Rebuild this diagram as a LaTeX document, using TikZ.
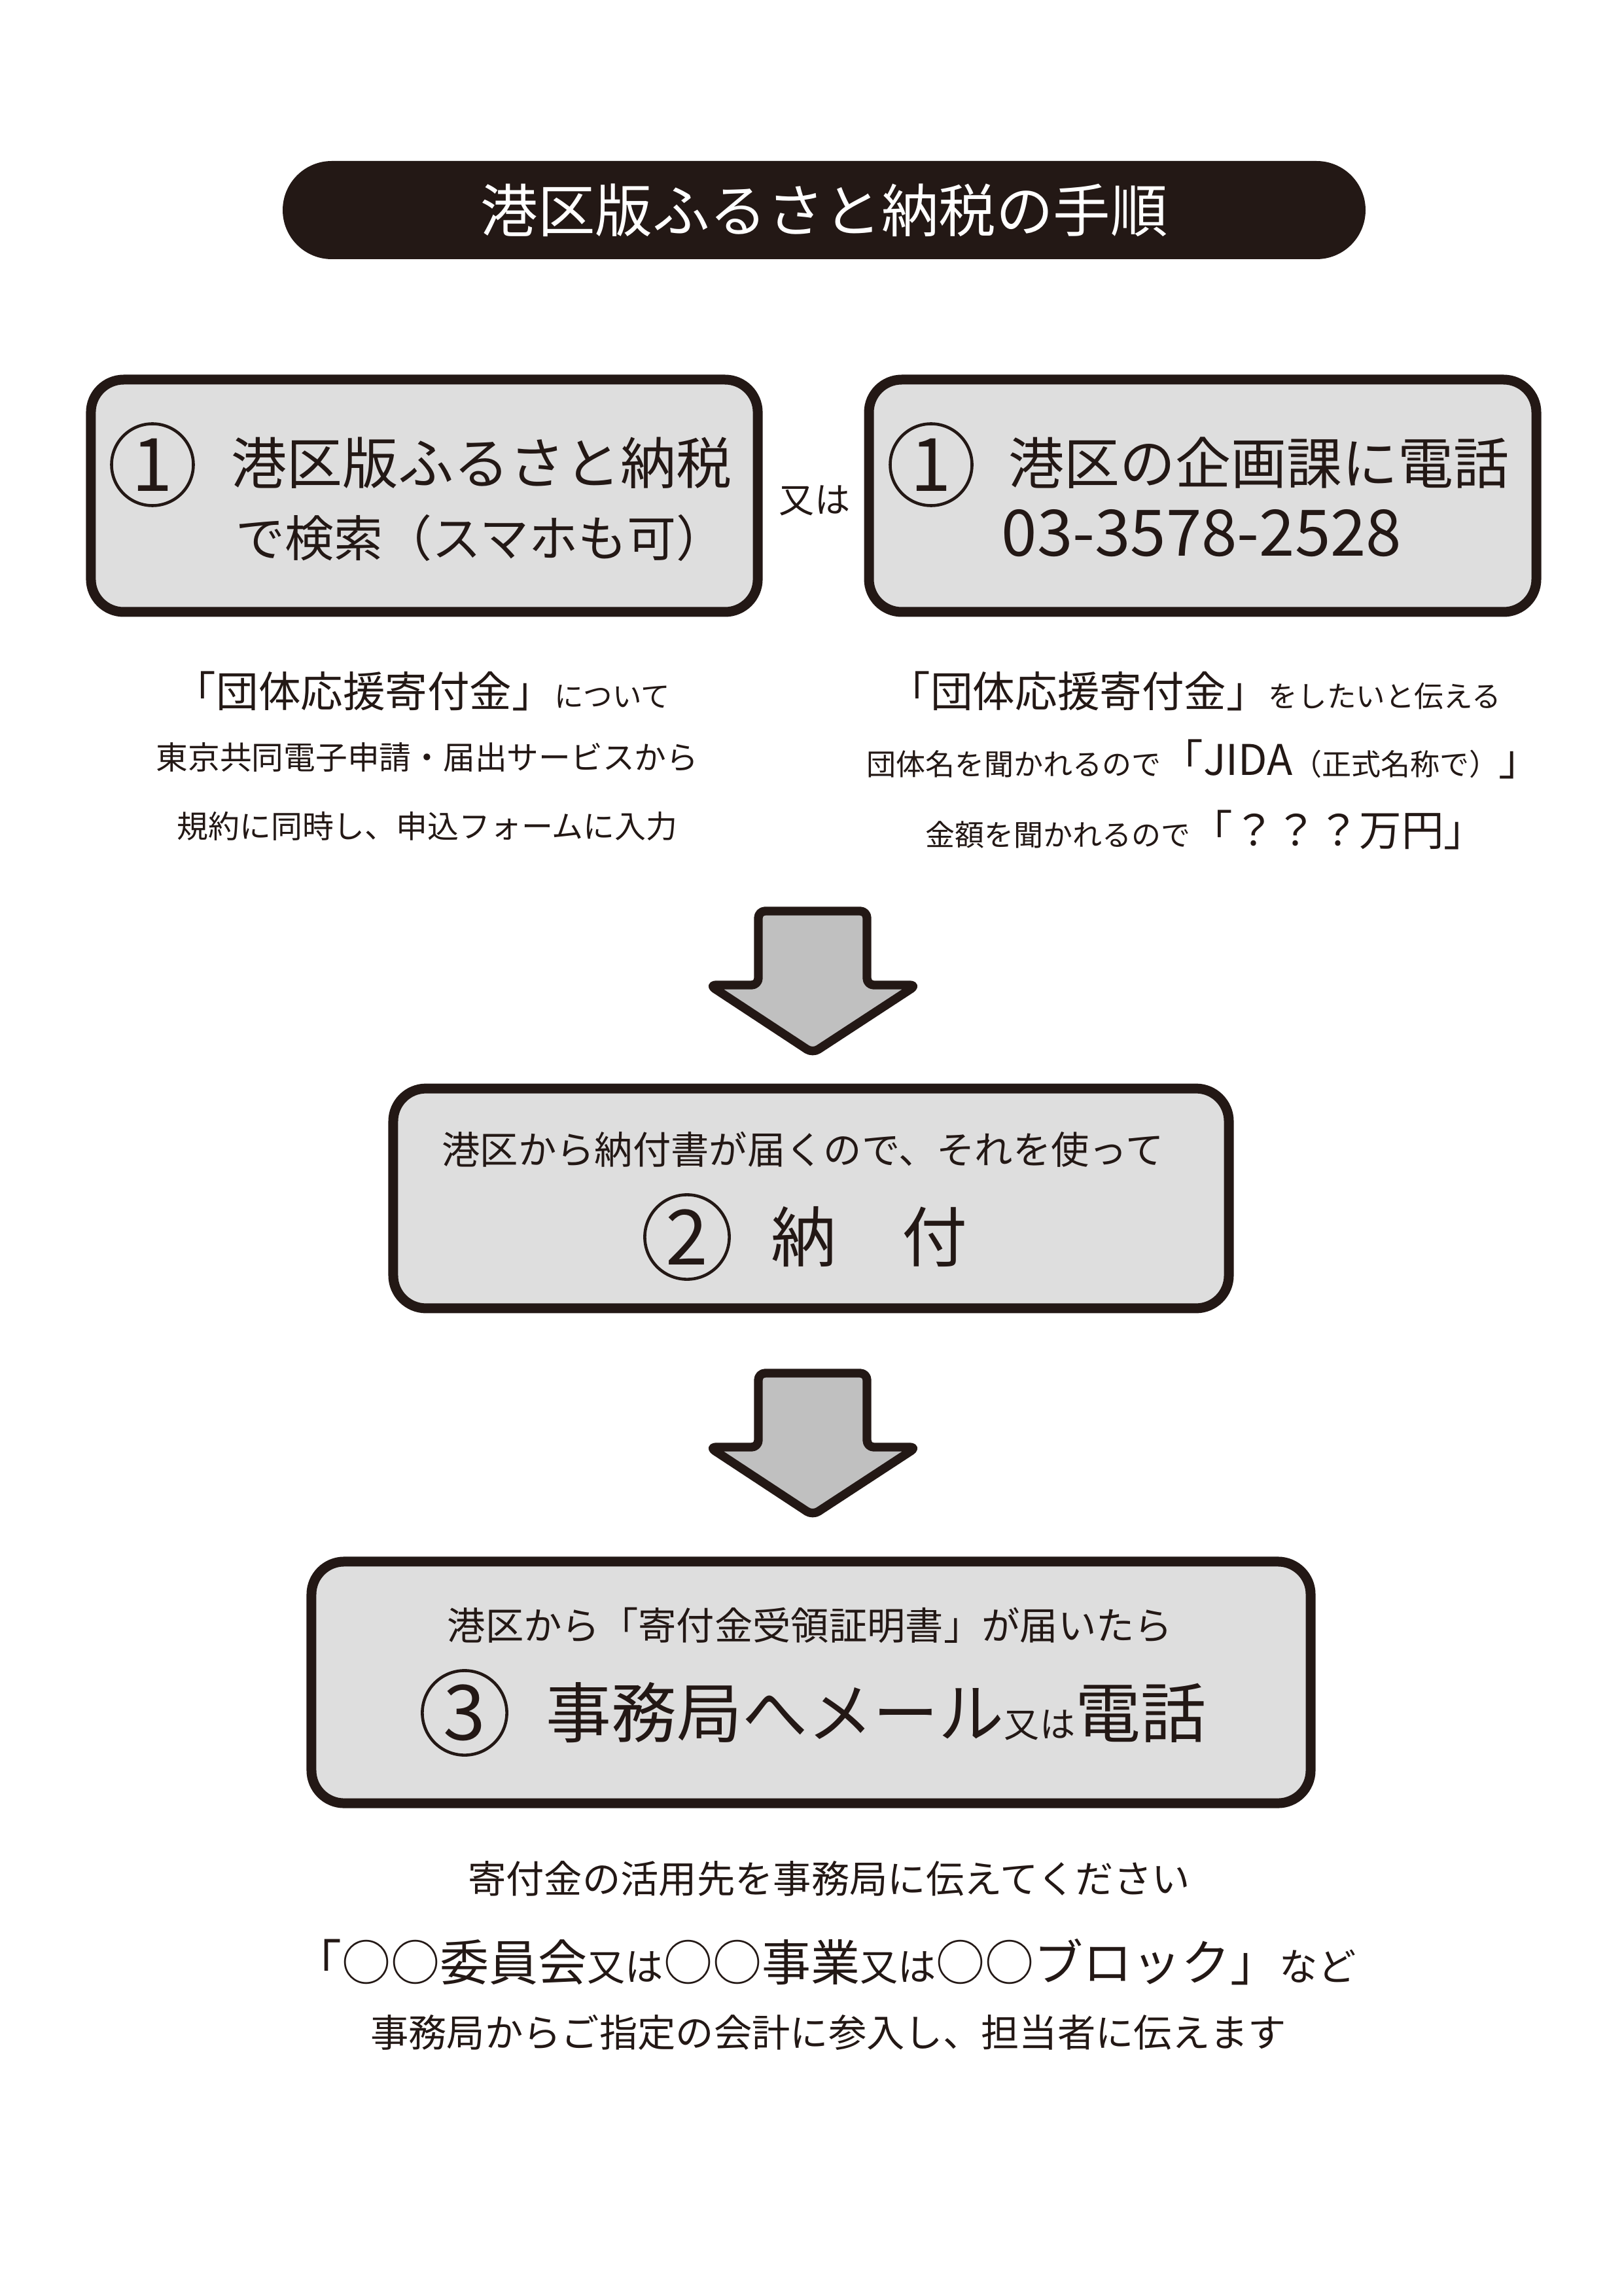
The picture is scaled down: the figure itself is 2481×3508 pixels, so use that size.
\documentclass[tikz,border=0pt]{standalone}
\usepackage{fontspec}
\setmainfont{Noto Sans CJK JP}
\newcommand\fsz[1]{\fontsize{#1pt}{#1pt}\selectfont}
\definecolor{ink}{RGB}{35,24,21}
\definecolor{boxgray}{RGB}{222,222,222}
\definecolor{arrowgray}{RGB}{192,192,192}
\begin{document}
\begin{tikzpicture}[x=0.24pt,y=-0.24pt,
  stepbox/.style={draw=ink, line width=3.6pt, fill=boxgray, rounded corners=12pt, inner sep=0pt},
  titlebox/.style={fill=ink, rounded corners=18pt, inner sep=0pt, minimum width=397.2pt, minimum height=36pt, text=white, font=\fsz{21}},
  numcirc/.style={circle, draw=ink, line width=1.1pt, minimum size=30pt, inner sep=0pt, text=ink, font=\fsz{27}},
  txt/.style={inner sep=0pt, text=ink},
  blockarrow/.style={draw=ink, line width=3.2pt, fill=arrowgray, line join=round, rounded corners=2.5pt}]
\useasboundingbox (0,0) rectangle (2481,3508);

% title
\node[titlebox] (title) at (1259.5,321) {港区版ふるさと納税の手順};

% step 1 boxes
\node[stepbox, minimum width=244.6pt, minimum height=85.2pt] (b1) at (648.5,757.5) {};
\node[stepbox, minimum width=244.8pt, minimum height=85.2pt] (b2) at (1838,757.5) {};

\node[numcirc] (c1a) at (233,710) {1};
\node[txt, anchor=west, font=\fsz{20.4}] (b1l1) at (353,707) {港区版ふるさと納税};
\node[txt, anchor=west, font=\fsz{18}] (b1l2) at (360,822) {で検索（スマホも可）};

\node[numcirc] (c1b) at (1423,710) {1};
\node[txt, anchor=west, font=\fsz{20.4}] (b2l1) at (1541,707) {港区の企画課に電話};
\node[txt, anchor=west, font=\fsz{23.5}] (b2l2) at (1530,815) {03-3578-2528};

\node[txt, font=\fsz{13}] (or1) at (1245,765) {又は};

% notes under step 1
\node[txt] (n1) at (645,1056) {{\fsz{15.5}「団体応援寄付金」}{\fsz{10.7}について}};
\node[txt, font=\fsz{11.7}] (n2) at (653,1157) {東京共同電子申請・届出サービスから};
\node[txt, font=\fsz{11.5}] (n3) at (653,1262) {規約に同時し、申込フォームに入力};

\node[txt] (m1) at (1826,1056) {{\fsz{15.5}「団体応援寄付金」}{\fsz{10.7}をしたいと伝える}};
\node[txt] (m2) at (1840,1160) {{\fsz{10.8}団体名を聞かれるので}{\fsz{15.5}「JIDA}{\fsz{10.8}（正式名称で）}{\fsz{15.5}」}};
\node[txt] (m3) at (1843,1268) {{\fsz{10.8}金額を聞かれるので}{\fsz{15.5}「？？？万円」}};

% arrow 1
\draw[blockarrow] (1159,1392) -- (1325,1392) -- (1325,1505) -- (1401,1505) -- (1242,1609) -- (1084,1505) -- (1159,1505) -- cycle;

% step 2
\node[stepbox, minimum width=306.5pt, minimum height=80.6pt] (b3) at (1239.5,1831) {};
\node[txt, font=\fsz{14}] (b3l1) at (1227,1756) {港区から納付書が届くので、それを使って};
\node[numcirc, minimum size=31pt, font=\fsz{28}] (c2) at (1050,1890) {2};
\node[txt, font=\fsz{24}] (b3l2) at (1328,1890) {納　付};

% arrow 2
\draw[blockarrow] (1159,2098) -- (1325,2098) -- (1325,2211) -- (1401,2211) -- (1242,2315) -- (1084,2211) -- (1159,2211) -- cycle;

% step 3
\node[stepbox, minimum width=366.5pt, minimum height=88.6pt] (b4) at (1239.5,2570.5) {};
\node[txt, font=\fsz{14}] (b4l1) at (1238,2483) {港区から「寄付金受領証明書」が届いたら};
\node[numcirc, minimum size=31pt, font=\fsz{28}] (c3) at (710,2617) {3};
\node[txt, anchor=west] (b4l2) at (834,2617) {{\fsz{24}事務局へメール}{\fsz{13}又は}{\fsz{24}電話}};

% closing notes
\node[txt, font=\fsz{14}] (f1) at (1267,2870) {寄付金の活用先を事務局に伝えてください};
\node[txt] (f2) at (1260,2998) {{\fsz{18}「○○委員会}{\fsz{14}又は}{\fsz{18}○○事業}{\fsz{14}又は}{\fsz{18}○○ブロック」}{\fsz{14}など}};
\node[txt, font=\fsz{14}] (f3) at (1266,3105) {事務局からご指定の会計に参入し、担当者に伝えます};
\end{tikzpicture}
\end{document}
